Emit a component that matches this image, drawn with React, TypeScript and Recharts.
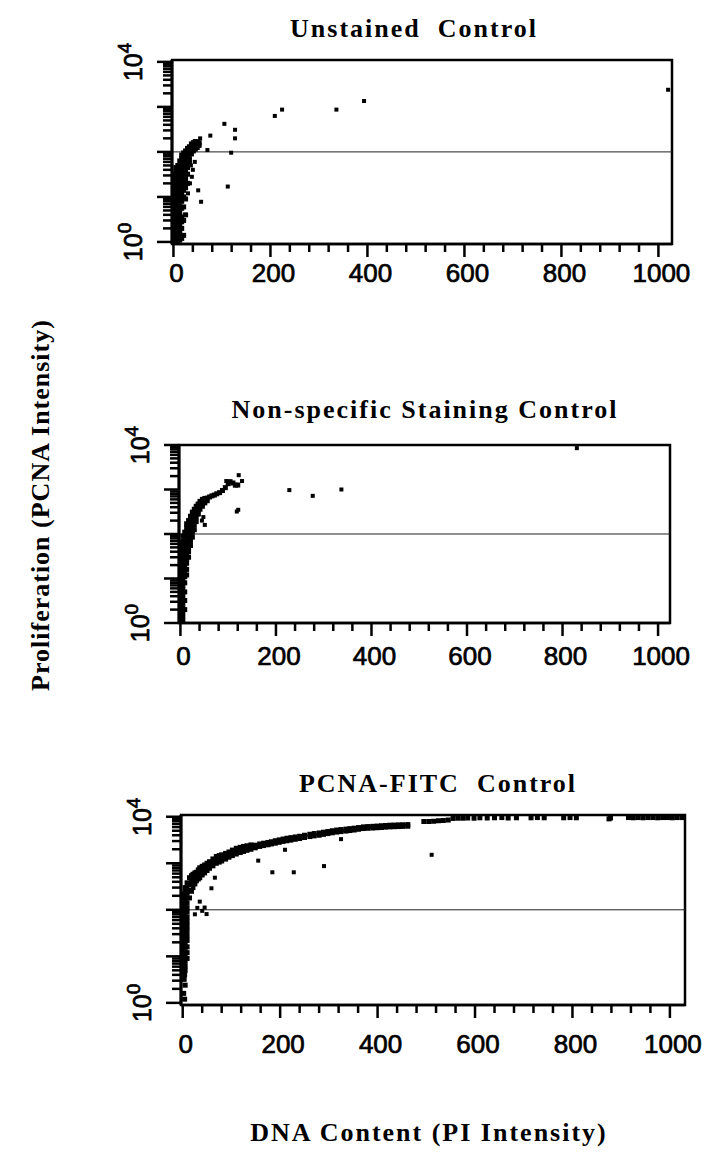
import React from 'react';
import {
  ScatterChart,
  Scatter,
  XAxis,
  YAxis,
  ReferenceLine,
  ReferenceArea,
} from 'recharts';

type Pt = [number, number]; // [DNA content, PCNA intensity]

// Unstained control
const unstainedCells: Pt[] = [
  [1, 1], [1, 1.25], [1, 1.6], [1, 2], [1, 2.5], [1, 3.2], [1, 4], [1, 5], [1, 6.3], [1, 8], [1, 10], [1, 12.5], [1, 16], [1, 20], [1, 25], [1, 32],
  [5, 1.1], [5, 1.4], [5, 1.8], [5, 2.2], [5, 2.8], [5, 3.6], [5, 4.5], [5, 5.6], [5, 7], [5, 9], [5, 11], [5, 14], [5, 18], [5, 22], [5, 28], [5, 36], [5, 45],
  [9, 1], [9, 1.25], [9, 1.6], [9, 2], [9, 2.5], [9, 3.2], [9, 4], [9, 5], [9, 6.3], [9, 8], [9, 10], [9, 12.5], [9, 16], [9, 20], [9, 25], [9, 32], [9, 40], [9, 50],
  [13, 1.1], [13, 1.4], [13, 1.6], [13, 2.2], [13, 2.8], [13, 3.2], [13, 4.5], [13, 6.3], [13, 9], [13, 12.5], [13, 16], [13, 20], [13, 25], [13, 32], [13, 40], [13, 50], [13, 63],
  [17, 1.2], [17, 2], [17, 2.8], [17, 3.6], [17, 5.6], [17, 8], [17, 11], [17, 14], [17, 18], [17, 22], [17, 28], [17, 36], [17, 45], [17, 56], [17, 70], [17, 85],
  [21, 1.4], [21, 3], [21, 6], [21, 10], [21, 14], [21, 20], [21, 25], [21, 32], [21, 40], [21, 50], [21, 63], [21, 80], [21, 95],
  [25, 4], [25, 9], [25, 16], [25, 22], [25, 28], [25, 36], [25, 45], [25, 56], [25, 70], [25, 85], [25, 105],
  [29, 20], [29, 32], [29, 45], [29, 63], [29, 80], [29, 100], [29, 120],
  [33, 56], [33, 70], [33, 90], [33, 110], [33, 130],
  [37, 90], [37, 110], [37, 130], [37, 150],
  [41, 105], [41, 125], [41, 145], [41, 160],
  [45, 115], [45, 135], [45, 155], [45, 170],
  [49, 125], [49, 145], [49, 165],
  [53, 140], [53, 160],
];
const unstainedOutliers: Pt[] = [
  [30, 12], [34, 20], [38, 28], [40, 40], [44, 60], [36, 50], [51, 14], [57, 7.8],
  [55, 200], [70, 110], [76, 230], [105, 420], [112, 17], [119, 96], [127, 310], [127, 200],
  [209, 630], [224, 870], [336, 870], [393, 1350], [1020, 2400],
];

// Non-specific staining control
const nonspecificCells: Pt[] = [
  [1, 1], [1, 1.25], [1, 1.6], [1, 2], [1, 2.5], [1, 3.2], [1, 4], [1, 5], [1, 6.3], [1, 8], [1, 10], [1, 12.5], [1, 16], [1, 20], [1, 25], [1, 32], [1, 40], [1, 50], [1, 63],
  [5, 1.1], [5, 1.4], [5, 1.8], [5, 2.2], [5, 2.8], [5, 3.6], [5, 4.5], [5, 5.6], [5, 7], [5, 9], [5, 11], [5, 14], [5, 18], [5, 22], [5, 28], [5, 36], [5, 45], [5, 56], [5, 70], [5, 90],
  [9, 2], [9, 3.2], [9, 5], [9, 8], [9, 11], [9, 14], [9, 18], [9, 22], [9, 28], [9, 36], [9, 45], [9, 56], [9, 70], [9, 90], [9, 110],
  [13, 12], [13, 16], [13, 22], [13, 28], [13, 36], [13, 45], [13, 56], [13, 70], [13, 90], [13, 110], [13, 140], [13, 170],
  [17, 30], [17, 40], [17, 50], [17, 63], [17, 80], [17, 100], [17, 125], [17, 160], [17, 200],
  [21, 55], [21, 70], [21, 90], [21, 110], [21, 140], [21, 170], [21, 210], [21, 250],
  [25, 85], [25, 110], [25, 140], [25, 170], [25, 210], [25, 260], [25, 310],
  [29, 125], [29, 160], [29, 200], [29, 250], [29, 300], [29, 360],
  [33, 190], [33, 240], [33, 290], [33, 350], [33, 420],
  [37, 280], [37, 340], [37, 400], [37, 470],
  [41, 360], [41, 420], [41, 490], [41, 540],
  [46, 420], [46, 480], [46, 550], [46, 600],
  [51, 500], [51, 560], [51, 630],
  [56, 560], [56, 640],
  [61, 680], [66, 720], [71, 750], [76, 800], [82, 850], [88, 950], [94, 1100],
  [100, 1350], [104, 1500], [110, 1400], [115, 1250], [120, 1260],
];
const nonspecificOutliers: Pt[] = [
  [38, 280], [45, 200], [48, 240], [51, 160], [118, 320], [121, 350],
  [96, 1550], [122, 2100], [129, 1550], [228, 970], [277, 720], [337, 1000], [830, 8500],
];

// PCNA-FITC control
const fitcCells: Pt[] = [
  [1, 4.5], [1, 5.6], [1, 7], [1, 9], [1, 11], [1, 14], [1, 18], [1, 22], [1, 28], [1, 36], [1, 45], [1, 56], [1, 70], [1, 90], [1, 110], [1, 140], [1, 180], [1, 220],
  [5, 5], [5, 6.3], [5, 8], [5, 10], [5, 12.5], [5, 16], [5, 20], [5, 25], [5, 32], [5, 40], [5, 50], [5, 63], [5, 80], [5, 100], [5, 125], [5, 160], [5, 200], [5, 250], [5, 300],
  [9, 9], [9, 12], [9, 16], [9, 22], [9, 28], [9, 36], [9, 45], [9, 56], [9, 70], [9, 90], [9, 110], [9, 140], [9, 180], [9, 230], [9, 300], [9, 380],
  [4, 4], [3, 3.2], [5, 2.4], [2, 1.6], [4, 1.2],
  [14, 180], [14, 260], [14, 350], [14, 490],
  [18, 250], [18, 350], [18, 450], [18, 540],
  [21, 300], [21, 400], [21, 500], [21, 580],
  [25, 360], [25, 460], [25, 570], [25, 620],
  [28, 420], [28, 520], [28, 640],
  [32, 460], [32, 570], [32, 720],
  [35, 490], [35, 620], [35, 800],
  [40, 560], [40, 690], [40, 860],
  [45, 620], [45, 760], [45, 920],
  [50, 700], [50, 840], [50, 1000],
  [55, 780], [55, 920], [55, 1080],
  [62, 880], [62, 1050], [62, 1240],
  [69, 1000], [69, 1180], [69, 1400],
  [75, 1060], [75, 1250], [75, 1460],
  [80, 1120], [80, 1320], [80, 1520],
  [88, 1230], [88, 1430], [88, 1630],
  [95, 1350], [95, 1550], [95, 1750],
  [102, 1460], [102, 1680], [102, 1920],
  [110, 1580], [110, 1800], [110, 2100],
  [118, 1700], [118, 1950], [118, 2200],
  [125, 1800], [125, 2050], [125, 2300],
  [132, 1900], [132, 2150], [132, 2380],
  [140, 2000], [140, 2250], [140, 2480],
  [149, 2150], [149, 2450],
  [158, 2300], [158, 2600],
  [166, 2400], [166, 2700],
  [175, 2500], [175, 2800],
  [182, 2600], [182, 2900],
  [190, 2700], [190, 3050],
  [198, 2820], [198, 3180],
  [206, 2950], [206, 3320],
  [214, 3050], [214, 3450],
  [222, 3150], [222, 3550],
  [231, 3280], [231, 3680],
  [240, 3400], [240, 3800],
  [250, 3580], [250, 4000],
  [261, 3750], [261, 4200],
  [270, 3880], [270, 4350],
  [280, 4000], [280, 4480],
  [289, 4180], [289, 4650],
  [298, 4350], [298, 4820],
  [307, 4520], [307, 5000],
  [316, 4680], [316, 5180],
  [325, 4800], [325, 5300],
  [335, 4920], [335, 5420],
  [343, 5050], [343, 5550],
  [352, 5180], [352, 5680],
  [361, 5380], [361, 5850],
  [371, 5580], [371, 6050],
  [380, 5650], [380, 6150],
  [390, 5720], [390, 6220],
  [399, 5800], [399, 6300],
  [408, 5880], [408, 6400],
  [416, 5980], [416, 6480],
  [425, 6050], [425, 6580],
  [434, 6100], [434, 6620],
  [443, 6150], [443, 6680],
  [452, 6200], [452, 6720],
  [462, 6250], [462, 6780],
];
const fitcTopRow: Pt[] = [
  [495, 7900], [505, 7900], [515, 8000], [525, 8200], [535, 8300], [545, 8500],
  [555, 9200], [565, 9300], [575, 9300], [585, 9400], [598, 9300], [610, 9500],
  [625, 9400], [640, 9500], [655, 9600], [668, 9400], [685, 9500],
  [715, 9500], [728, 9600], [742, 9500], [782, 9500], [795, 9600], [808, 9500],
  [875, 9000], [878, 9400],
  [915, 9600], [925, 9500], [935, 9600], [945, 9500], [955, 9600], [965, 9600],
  [975, 9500], [985, 9600], [995, 9600], [1005, 9500], [1015, 9600], [1025, 9600],
];
const fitcOutliers: Pt[] = [
  [155, 1140], [184, 640], [228, 640], [290, 870], [325, 3300], [210, 1950],
  [66, 490], [59, 290], [45, 112], [49, 81], [35, 150], [40, 95], [30, 110], [25, 80],
  [511, 1520],
];

const xTicks = [0, 40, 80, 120, 160, 200, 240, 280, 320, 360, 400, 440, 480, 520, 560, 600, 640, 680, 720, 760, 800, 840, 880, 920, 960, 1000];
const xLabels = [0, 200, 400, 600, 800, 1000];
const yTicks = [
  1, 2, 3, 4, 5, 6, 7, 8, 9,
  10, 20, 30, 40, 50, 60, 70, 80, 90,
  100, 200, 300, 400, 500, 600, 700, 800, 900,
  1000, 2000, 3000, 4000, 5000, 6000, 7000, 8000, 9000,
  10000,
];
const yMajor = [1, 10, 100, 1000, 10000];
const yLabels: Record<number, string> = { 1: '0', 10000: '4' };
const gateLevel = 100;

const SANS = '"Liberation Sans", Arial, Helvetica, sans-serif';
const SERIF = '"Liberation Serif", "Times New Roman", Times, serif';

function XTick(props: any) {
  const { x, y, payload, labelDy } = props;
  const v = payload.value;
  const major = xLabels.includes(v);
  return (
    <g>
      <line x1={x} x2={x} y1={y} y2={y + (major ? 13 : 8)} stroke="#000" strokeWidth={2.5} />
      {major && (
        <text
          x={x + 3}
          y={y + labelDy}
          textAnchor="middle"
          fontFamily={SANS}
          fontSize={26}
          fill="#000"
          stroke="#000"
          strokeWidth={0.7}
        >
          {v}
        </text>
      )}
    </g>
  );
}

function YTick(props: any) {
  const { x, y, payload } = props;
  const v = payload.value;
  const major = yMajor.includes(v);
  const exp = yLabels[v];
  return (
    <g>
      <line x1={x} x2={x - (major ? 15 : 9)} y1={y} y2={y} stroke="#000" strokeWidth={2.5} />
      {exp && (
        <text
          transform={`translate(${x - 30},${y}) rotate(-90)`}
          textAnchor="middle"
          fontFamily={SANS}
          fontSize={25}
          fill="#000"
          stroke="#000"
          strokeWidth={0.7}
        >
          10<tspan dy={-11} fontSize={19}>{exp}</tspan>
        </text>
      )}
    </g>
  );
}

const cellDot = (p: any) => (
  <rect x={p.cx - 2.5} y={p.cy - 2.5} width={5} height={5} fill="#000" />
);
const strayDot = (p: any) => (
  <rect x={p.cx - 2} y={p.cy - 2} width={4} height={4} fill="#000" />
);

interface PanelProps {
  top: number;
  height: number;
  margin: { top: number; right: number; bottom: number; left: number };
  xDomain: [number, number];
  yDomain: [number, number];
  cells: Pt[][];
  strays: Pt[];
  labelDy: number;
}

function Panel({ top, height, margin, xDomain, yDomain, cells, strays, labelDy }: PanelProps) {
  return (
    <div style={{ position: 'absolute', left: 0, top }}>
      <ScatterChart width={706} height={height} margin={margin}>
        <XAxis
          type="number"
          dataKey="x"
          domain={xDomain}
          ticks={xTicks}
          interval={0}
          allowDataOverflow
          height={50}
          tickSize={0}
          tickMargin={0}
          tickLine={false}
          axisLine={{ stroke: '#000', strokeWidth: 2.5 }}
          tick={(p: any) => <XTick {...p} labelDy={labelDy} />}
        />
        <YAxis
          type="number"
          dataKey="y"
          scale="log"
          domain={yDomain}
          ticks={yTicks}
          interval={0}
          allowDataOverflow
          width={60}
          tickSize={0}
          tickMargin={0}
          tickLine={false}
          axisLine={{ stroke: '#000', strokeWidth: 3 }}
          tick={(p: any) => <YTick {...p} />}
        />
        <ReferenceArea
          x1={xDomain[0]}
          x2={xDomain[1]}
          y1={yDomain[0]}
          y2={yDomain[1]}
          fill="none"
          fillOpacity={0}
          stroke="#000"
          strokeWidth={2.5}
        />
        <ReferenceLine y={gateLevel} stroke="#222" strokeWidth={1} />
        {cells.map((pts, i) => (
          <Scatter
            key={i}
            data={pts.map(([x, y]) => ({ x, y }))}
            shape={cellDot}
            isAnimationActive={false}
          />
        ))}
        <Scatter
          data={strays.map(([x, y]) => ({ x, y }))}
          shape={strayDot}
          isAnimationActive={false}
        />
      </ScatterChart>
    </div>
  );
}

export default function App() {
  const titleStyle = { whiteSpace: 'pre' as const };
  return (
    <div style={{ position: 'absolute', left: 0, top: 0, width: 706, height: 1153, background: '#fff' }}>
      <Panel
        top={0}
        height={300}
        margin={{ top: 60, right: 34, bottom: 6, left: 112 }}
        xDomain={[-3, 1028]}
        yDomain={[0.9, 11000]}
        cells={[unstainedCells]}
        strays={unstainedOutliers}
        labelDy={38}
      />
      <Panel
        top={380}
        height={310}
        margin={{ top: 65, right: 36, bottom: 17, left: 119 }}
        xDomain={[-3, 1025]}
        yDomain={[1, 10000]}
        cells={[nonspecificCells]}
        strays={nonspecificOutliers}
        labelDy={42}
      />
      <Panel
        top={760}
        height={320}
        margin={{ top: 55, right: 21, bottom: 25, left: 121 }}
        xDomain={[-3.5, 1031]}
        yDomain={[0.9, 10900]}
        cells={[fitcCells, fitcTopRow]}
        strays={fitcOutliers}
        labelDy={48}
      />
      <svg
        width={706}
        height={1153}
        style={{ position: 'absolute', left: 0, top: 0, pointerEvents: 'none' }}
      >
        <g fontFamily={SERIF} fontWeight="bold" fontSize={26} fill="#000" letterSpacing={2}>
          <text x={414} y={37} textAnchor="middle" style={titleStyle}>Unstained  Control</text>
          <text x={425} y={418} textAnchor="middle">Non-specific Staining Control</text>
          <text x={438} y={792} textAnchor="middle" style={titleStyle}>PCNA-FITC  Control</text>
          <text x={429} y={1141} textAnchor="middle">DNA Content (PI Intensity)</text>
          <text transform="translate(49,505) rotate(-90)" textAnchor="middle" letterSpacing={1}>
            Proliferation (PCNA Intensity)
          </text>
        </g>
      </svg>
    </div>
  );
}
